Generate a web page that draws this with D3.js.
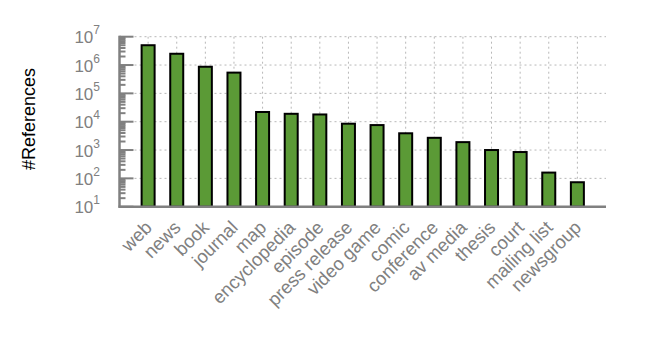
<!DOCTYPE html>
<html>
<head>
<meta charset="utf-8">
<script src="https://d3js.org/d3.v7.min.js"></script>
<style>
body { margin: 0; background: #fff; }
text { font-family: "Liberation Sans", Arial, Helvetica, sans-serif; }
</style>
</head>
<body>
<script>
// reference types and how many references each has
var categories = ['web', 'news', 'book', 'journal', 'map', 'encyclopedia', 'episode',
  'press release', 'video game', 'comic', 'conference', 'av media', 'thesis',
  'court', 'mailing list', 'newsgroup'];
var counts = [5000000, 2500000, 870000, 540000, 22000, 19000, 18000,
  8500, 7600, 3900, 2700, 1900, 1000, 850, 160, 73];
var yTicks = [10, 100, 1000, 10000, 100000, 1000000, 10000000];

var width = 664, height = 346;
var pLeft = 119.5, pRight = 606, pTop = 36.7, pBottom = 206.7;

var svg = d3.select('body').append('svg')
  .attr('width', width)
  .attr('height', height);

var x = d3.scalePoint()
  .domain(categories)
  .range([pLeft, pRight])
  .padding(1);

var y = d3.scaleLog()
  .domain([10, 10000000])
  .range([pBottom, pTop]);

var barW = 13;
var grey = '#808080';

// grid
svg.append('g').selectAll('line')
  .data(yTicks.slice(1))
  .enter().append('line')
  .attr('x1', pLeft).attr('x2', pRight)
  .attr('y1', function(d) { return y(d); })
  .attr('y2', function(d) { return y(d); })
  .attr('stroke', '#b8b8b8')
  .attr('stroke-dasharray', '2,3');

svg.append('g').selectAll('line')
  .data(categories)
  .enter().append('line')
  .attr('x1', function(d) { return x(d); })
  .attr('x2', function(d) { return x(d); })
  .attr('y1', pTop).attr('y2', pBottom)
  .attr('stroke', '#b8b8b8')
  .attr('stroke-dasharray', '2,3');

// bars
svg.append('g').selectAll('rect')
  .data(counts)
  .enter().append('rect')
  .attr('x', function(d, i) { return x(categories[i]) - barW / 2; })
  .attr('y', function(d) { return y(d); })
  .attr('width', barW)
  .attr('height', function(d) { return pBottom - y(d); })
  .attr('fill', '#5b9a36')
  .attr('stroke', '#000')
  .attr('stroke-width', 2);

// y axis with minor ticks
var minor = [];
for (var e = 1; e < 7; e++) {
  for (var m = 2; m < 10; m++) minor.push(m * Math.pow(10, e));
}
var yAxis = svg.append('g');
yAxis.selectAll('line.minor')
  .data(minor)
  .enter().append('line')
  .attr('x1', pLeft).attr('x2', pLeft + 6)
  .attr('y1', function(d) { return y(d); })
  .attr('y2', function(d) { return y(d); })
  .attr('stroke', grey).attr('stroke-width', 2);
yAxis.selectAll('line.major')
  .data(yTicks)
  .enter().append('line')
  .attr('x1', pLeft).attr('x2', pLeft + 14)
  .attr('y1', function(d) { return y(d); })
  .attr('y2', function(d) { return y(d); })
  .attr('stroke', grey).attr('stroke-width', 2);
yAxis.append('line')
  .attr('x1', pLeft).attr('x2', pLeft)
  .attr('y1', pTop - 1).attr('y2', pBottom + 1)
  .attr('stroke', grey).attr('stroke-width', 2.5);

var lab = yAxis.selectAll('text')
  .data(yTicks)
  .enter().append('text')
  .attr('x', 100)
  .attr('y', function(d) { return y(d) + 6.5; })
  .attr('text-anchor', 'end')
  .attr('fill', grey)
  .attr('font-size', 17);
lab.append('tspan').text('10');
lab.append('tspan')
  .attr('dy', -9)
  .attr('font-size', 12)
  .text(function(d) { return Math.round(Math.log10(d)); });

// x axis
svg.append('line')
  .attr('x1', pLeft - 1).attr('x2', pRight)
  .attr('y1', pBottom).attr('y2', pBottom)
  .attr('stroke', grey).attr('stroke-width', 2.5);

svg.append('g').selectAll('text')
  .data(categories)
  .enter().append('text')
  .attr('transform', function(d) { return 'translate(' + (x(d) + 5) + ',' + (pBottom + 22) + ') rotate(-45)'; })
  .attr('text-anchor', 'end')
  .attr('fill', grey)
  .attr('font-size', 18.5)
  .text(function(d) { return d; });

svg.append('text')
  .attr('transform', 'translate(35,119) rotate(-90)')
  .attr('text-anchor', 'middle')
  .attr('fill', '#000')
  .attr('font-size', 18)
  .text('#References');
</script>
</body>
</html>
